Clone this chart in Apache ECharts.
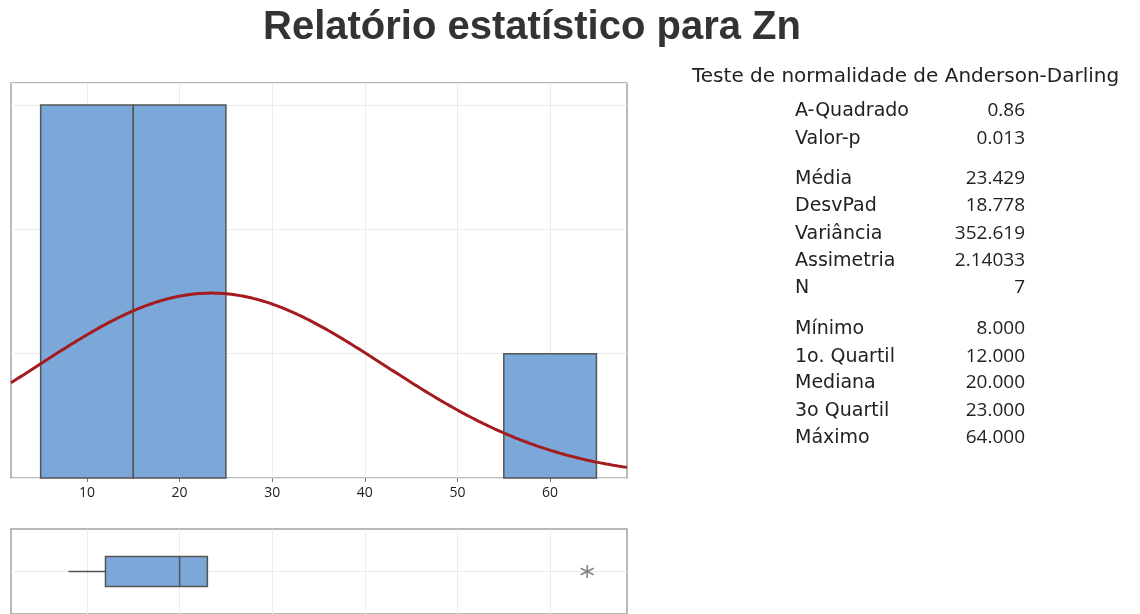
<!DOCTYPE html>
<html>
<head>
<meta charset="utf-8">
<script src="https://cdn.jsdelivr.net/npm/echarts@6/dist/echarts.min.js"></script>
<style>
  html, body { margin: 0; padding: 0; background: #ffffff; }
  #chart { width: 1140px; height: 614px; }
</style>
</head>
<body>
<div id="chart"></div>
<script>
// Histogram bins for Zn (bin edges and counts)
const binStart = [5, 15, 55];
const binEnd = [15, 25, 65];
const binCount = [3, 3, 1];

// Summary statistics
const sampleMean = 23.429;
const sampleSd = 18.778;
const sampleN = 7;
const binWidth = 10;

// Box plot: lower whisker, Q1, median, Q3, upper whisker
const boxStats = [8, 12, 20, 23, 23];
const outliers = [64];

// x axis
const xMin = 1.8;
const xMax = 68.3;
const xTicks = [10, 20, 30, 40, 50, 60];

// Statistics panel text
const testTitle = 'Teste de normalidade de Anderson-Darling';
const statLabels = [
  ['A-Quadrado', 'Valor-p'],
  ['Média', 'DesvPad', 'Variância', 'Assimetria', 'N'],
  ['Mínimo', '1o. Quartil', 'Mediana', '3o Quartil', 'Máximo']
];
const statValues = [
  ['0.86', '0.013'],
  ['23.429', '18.778', '352.619', '2.14033', '7'],
  ['8.000', '12.000', '20.000', '23.000', '64.000']
];

// Fitted normal curve scaled to histogram counts
const curvePoints = [];
for (let x = xMin; x <= xMax + 1e-9; x += 0.25) {
  const z = (x - sampleMean) / sampleSd;
  const dens = Math.exp(-0.5 * z * z) / (sampleSd * Math.sqrt(2 * Math.PI));
  curvePoints.push([x, dens * sampleN * binWidth]);
}

const histData = binStart.map((s, i) => [s, binEnd[i], binCount[i]]);

const BAR_FILL = '#7ba7d9';
const BAR_EDGE = '#555555';
const GRID_LINE = '#ececec';
const FRAME = '#a3a3a3';
const LABEL_FONT = '"DejaVu Sans", sans-serif';
const NUM_FONT = '"Open Sans", "DejaVu Sans", sans-serif';

// Statistics panel graphic elements
const rowYs = [
  [111, 139],
  [179, 206, 234, 261, 288],
  [329, 357, 383, 411, 438]
];
const graphics = [
  {
    type: 'text', x: 532, y: 28,
    style: {
      text: 'Relatório estatístico para Zn',
      font: 'bold 40px "Liberation Sans", Arial, sans-serif',
      fill: '#333333', align: 'center', verticalAlign: 'middle'
    }
  },
  {
    type: 'text', x: 692, y: 77,
    style: { text: testTitle, font: '20px ' + LABEL_FONT, fill: '#222222', verticalAlign: 'middle', align: 'left' }
  }
];
statLabels.forEach((group, g) => {
  group.forEach((lab, i) => {
    graphics.push({
      type: 'text', x: 795, y: rowYs[g][i],
      style: { text: lab, font: '19px ' + LABEL_FONT, fill: '#222222', verticalAlign: 'middle', align: 'left' }
    });
    graphics.push({
      type: 'text', x: 1025, y: rowYs[g][i],
      style: { text: statValues[g][i], font: '19px ' + NUM_FONT, fill: '#222222', verticalAlign: 'middle', align: 'right' }
    });
  });
});

const chart = echarts.init(document.getElementById('chart'), null, { renderer: 'canvas' });

chart.setOption({
  animation: false,
  backgroundColor: '#ffffff',
  graphic: graphics,
  grid: [
    { left: 11, right: 513, top: 83, bottom: 136, show: true, borderColor: FRAME, borderWidth: 1.5, containLabel: false },
    { left: 11, right: 513, top: 529, height: 86, show: true, borderColor: FRAME, borderWidth: 1.5, containLabel: false }
  ],
  xAxis: [
    {
      type: 'value', gridIndex: 0, min: xMin, max: xMax,
      axisLine: { show: false },
      axisTick: { show: true, length: 4, customValues: xTicks, lineStyle: { color: '#777777' } },
      axisLabel: { customValues: xTicks, color: '#222222', fontSize: 14, fontFamily: NUM_FONT, margin: 8 },
      splitLine: { show: true, lineStyle: { color: GRID_LINE, width: 1 } }
    },
    {
      type: 'value', gridIndex: 1, min: xMin, max: xMax,
      axisLine: { show: false },
      axisTick: { show: false, customValues: xTicks },
      axisLabel: { show: false, customValues: xTicks },
      splitLine: { show: true, lineStyle: { color: GRID_LINE, width: 1 } }
    }
  ],
  yAxis: [
    {
      type: 'value', gridIndex: 0, min: 0, max: 3.177, interval: 1,
      axisLine: { show: false }, axisTick: { show: false }, axisLabel: { show: false },
      splitLine: { show: true, lineStyle: { color: GRID_LINE, width: 1 } }
    },
    {
      type: 'category', gridIndex: 1, data: ['Zn'],
      axisLine: { show: false }, axisTick: { show: false }, axisLabel: { show: false },
      splitLine: { show: false }
    }
  ],
  series: [
    {
      type: 'custom',
      xAxisIndex: 0, yAxisIndex: 0,
      data: histData,
      encode: { x: [0, 1], y: 2 },
      z: 2,
      renderItem: function (params, api) {
        const p0 = api.coord([api.value(0), api.value(2)]);
        const p1 = api.coord([api.value(1), 0]);
        return {
          type: 'rect',
          shape: { x: p0[0], y: p0[1], width: p1[0] - p0[0], height: p1[1] - p0[1] },
          style: { fill: BAR_FILL, stroke: BAR_EDGE, lineWidth: 1.5 }
        };
      }
    },
    {
      type: 'line',
      xAxisIndex: 0, yAxisIndex: 0,
      data: curvePoints,
      showSymbol: false,
      smooth: false,
      clip: true,
      z: 3,
      lineStyle: { color: '#a51c1f', width: 3 }
    },
    {
      // horizontal reference line through the box plot
      type: 'line',
      xAxisIndex: 1, yAxisIndex: 1,
      data: [[xMin, 'Zn'], [xMax, 'Zn']],
      showSymbol: false,
      silent: true,
      z: 1,
      lineStyle: { color: GRID_LINE, width: 1 }
    },
    {
      // box with whiskers (no end caps)
      type: 'custom',
      xAxisIndex: 1, yAxisIndex: 1,
      data: [boxStats.concat([0])],
      encode: { x: [0, 1, 2, 3, 4], y: 5 },
      z: 2,
      renderItem: function (params, api) {
        const yc = api.coord([0, 0])[1];
        const half = 15;
        const lo = api.coord([api.value(0), 0])[0];
        const q1 = api.coord([api.value(1), 0])[0];
        const md = api.coord([api.value(2), 0])[0];
        const q3 = api.coord([api.value(3), 0])[0];
        const hi = api.coord([api.value(4), 0])[0];
        const edge = { stroke: BAR_EDGE, lineWidth: 1.5 };
        const children = [];
        if (q1 > lo) children.push({ type: 'line', shape: { x1: lo, y1: yc, x2: q1, y2: yc }, style: edge });
        if (hi > q3) children.push({ type: 'line', shape: { x1: q3, y1: yc, x2: hi, y2: yc }, style: edge });
        children.push({ type: 'rect', shape: { x: q1, y: yc - half, width: q3 - q1, height: 2 * half },
          style: { fill: BAR_FILL, stroke: BAR_EDGE, lineWidth: 1.5 } });
        children.push({ type: 'line', shape: { x1: md, y1: yc - half, x2: md, y2: yc + half }, style: edge });
        return { type: 'group', children: children };
      }
    },
    {
      type: 'scatter',
      xAxisIndex: 1, yAxisIndex: 1,
      data: outliers.map(v => [v, 'Zn']),
      symbol: 'path://M6,0L6,12M0.8,3L11.2,9M0.8,9L11.2,3',
      symbolSize: 13,
      z: 3,
      itemStyle: { color: 'rgba(0,0,0,0)', borderColor: '#666666', borderWidth: 1.6 }
    }
  ]
});
</script>
</body>
</html>
